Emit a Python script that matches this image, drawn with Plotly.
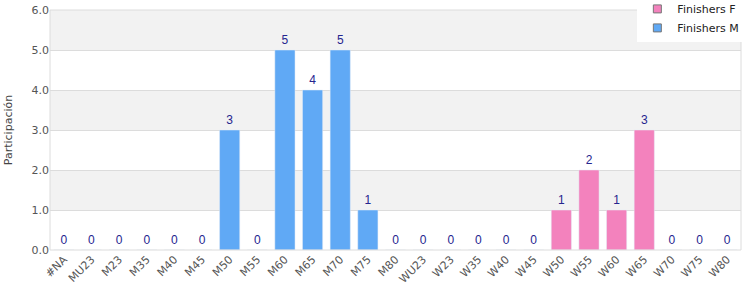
import plotly.graph_objects as go

categories = ["#NA", "MU23", "M23", "M35", "M40", "M45", "M50", "M55", "M60", "M65",
              "M70", "M75", "M80", "WU23", "W23", "W35", "W40", "W45", "W50", "W55",
              "W60", "W65", "W70", "W75", "W80"]
finishers_m = [0, 0, 0, 0, 0, 0, 3, 0, 5, 4, 5, 1, 0, 0, 0, 0, 0, 0, None, None, None, None, None, None, None]
finishers_f = [None, None, None, None, None, None, None, None, None, None, None, None, None,
               None, None, None, None, None, 1, 2, 1, 3, 0, 0, 0]
y_ticks = [0, 1, 2, 3, 4, 5, 6]

BLUE = "#60a9f5"
PINK = "#f382bd"
LABEL = "#25258f"

labels = [m if m is not None else f for m, f in zip(finishers_m, finishers_f)]

fig = go.Figure()
fig.add_trace(go.Bar(x=categories, y=finishers_f, name="Finishers F",
                     marker=dict(color=PINK), showlegend=False))
fig.add_trace(go.Bar(x=categories, y=finishers_m, name="Finishers M",
                     marker=dict(color=BLUE), showlegend=False))
fig.add_trace(go.Scatter(x=categories, y=labels, mode="markers+text",
                         marker=dict(size=3, opacity=0),
                         text=[str(v) for v in labels], textposition="top center",
                         textfont=dict(color=LABEL, size=12, family="Liberation Sans, Arial"),
                         showlegend=False, cliponaxis=False, hoverinfo="skip"))
# legend entries
for name, col in [("Finishers F", PINK), ("Finishers M", BLUE)]:
    fig.add_trace(go.Scatter(x=[categories[0]], y=[None], mode="markers", name=name,
                             marker=dict(symbol="square", size=8, color=col,
                                         line=dict(color="#777777", width=1))))

shapes = []
for i in range(1, len(y_ticks) - 1, 2):
    shapes.append(dict(type="rect", xref="paper", yref="y", x0=0, x1=1,
                       y0=y_ticks[i], y1=y_ticks[i + 1], fillcolor="#f2f2f2",
                       line=dict(width=0), layer="below"))
shapes.append(dict(type="rect", xref="paper", yref="paper", x0=0, x1=1, y0=0, y1=1,
                   fillcolor="rgba(0,0,0,0)", line=dict(color="#dcdcdc", width=1)))

fig.update_layout(
    width=750, height=300,
    margin=dict(l=50, r=9, t=10, b=50, autoexpand=False),
    paper_bgcolor="white", plot_bgcolor="white",
    barmode="overlay", bargap=0.27,
    font=dict(family="DejaVu Sans", color="#444444", size=11),
    shapes=shapes,
    showlegend=True,
    legend=dict(x=0.85, y=1.065, xanchor="left", yanchor="top",
                bgcolor="white", font=dict(size=11, color="#222222"),
                tracegroupgap=0, itemwidth=30),
    xaxis=dict(type="category", range=[-0.5, len(categories) - 0.5], tickangle=-45,
               showgrid=False, zeroline=False,
               ticks="", tickfont=dict(size=11, color="#555555")),
    yaxis=dict(range=[0, 6], tickvals=y_ticks, tickformat=".1f", showgrid=True,
               gridcolor="#dcdcdc", zeroline=False, ticks="",
               tickfont=dict(size=11, color="#555555"),
               title=dict(text="Participación", font=dict(size=11, color="#444444"), standoff=16)),
)

fig.write_html("out.html")
